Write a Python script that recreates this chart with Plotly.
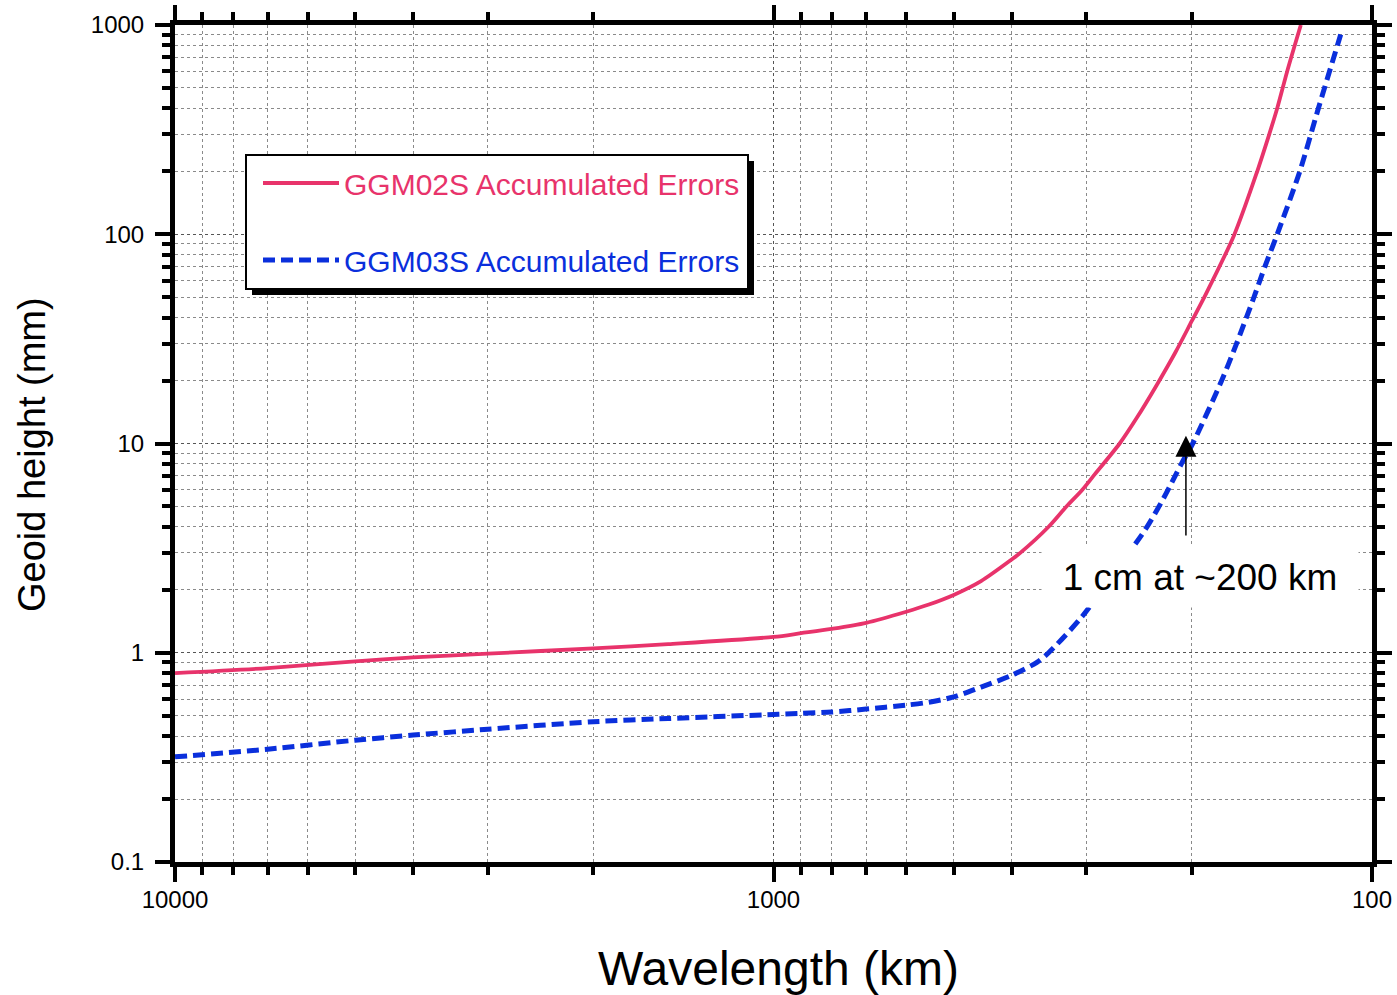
import math
import plotly.graph_objects as go

# ---------------- data ----------------
ggm02s_wavelength_km = [10000, 7000, 5000, 4000, 3000, 2000, 1500, 1000, 900, 800, 700, 600,
                        550, 500, 450, 400, 387, 347, 324, 305, 292, 264, 247, 229, 213,
                        200, 191, 170, 155.5, 148.5, 144, 138.6, 131.5]
ggm02s_error_mm = [0.80, 0.845, 0.91, 0.95, 0.99, 1.05, 1.10, 1.19, 1.24, 1.30, 1.39, 1.57,
                   1.70, 1.89, 2.2, 2.79, 3.0, 4.0, 5.0, 6.0, 7.0, 10.0, 13.3, 19.0, 27.3,
                   38.5, 49.5, 99, 200, 300, 400, 600, 1000]

ggm03s_wavelength_km = [10000, 7000, 5000, 4000, 3000, 2000, 1500, 1000, 900, 800, 700, 600,
                        550, 500, 450, 400, 363, 347, 305, 270, 239.5, 223, 208, 199.3,
                        178.3, 168.4, 157.5, 151, 144, 132, 122.9, 112.8]
ggm03s_error_mm = [0.318, 0.346, 0.382, 0.404, 0.431, 0.468, 0.485, 0.507, 0.513, 0.521, 0.538, 0.562,
                   0.58, 0.615, 0.685, 0.78, 0.90, 1.0, 1.49, 2.4, 3.86, 5.47, 8.04, 10.0,
                   20, 30, 50, 70, 100, 200, 400, 900]

series_names = ["GGM02S Accumulated Errors", "GGM03S Accumulated Errors"]
series_colors = ["#e8336b", "#0a2fdc"]

x_tick_values = [10000, 1000, 100]
x_tick_labels = ["10000", "1000", "100"]
y_tick_values = [0.1, 1, 10, 100, 1000]
y_tick_labels = ["0.1", "1", "10", "100", "1000"]

annotation_text = "1 cm at ~200 km"
arrow_wavelength_km = 204.6
arrow_tip_mm = 10.9
arrow_tail_mm = 3.57

# ---------------- layout geometry ----------------
W, H = 1397, 995
L, R, T, B = 175, 25, 25, 133
PW = W - L - R
PH = H - T - B


def px_x(p):
    return (p - L) / PW


def px_y(p):
    return (H - B - p) / PH


FONT = "Liberation Sans, Arial, Helvetica, sans-serif"

fig = go.Figure()
fig.add_trace(go.Scatter(
    x=ggm02s_wavelength_km, y=ggm02s_error_mm, mode="lines",
    name="<span style='color:%s'>%s</span>" % (series_colors[0], series_names[0]),
    line=dict(color=series_colors[0], width=3.8, shape="spline", smoothing=0.8),
    legendgroup="a",
))
fig.add_trace(go.Scatter(
    x=ggm03s_wavelength_km, y=ggm03s_error_mm, mode="lines",
    name="<span style='color:%s'>%s</span>" % (series_colors[1], series_names[1]),
    line=dict(color=series_colors[1], width=5, dash="12px,6px", shape="spline", smoothing=0.8),
    legendgroup="b",
))

minor_x = [d * 10 ** e for e in range(2, 4) for d in range(2, 10)]
minor_y = [d * 10 ** e for e in range(-1, 3) for d in range(2, 10)]

axis_common = dict(
    type="log", showline=True, linewidth=5, linecolor="black", mirror="ticks",
    ticks="outside", ticklen=15, tickwidth=4, tickcolor="black",
    showgrid=True, gridcolor="#555555", griddash="dot", gridwidth=1,
    tickfont=dict(family=FONT, size=24, color="black"),
    zeroline=False, automargin=False,
)

fig.update_xaxes(
    **axis_common, range=[4, 2], tickmode="array", tickvals=x_tick_values, ticktext=x_tick_labels,
    ticklabelstandoff=-3,
    minor=dict(tickmode="array", tickvals=minor_x, ticks="outside", ticklen=8, tickwidth=4,
               tickcolor="black", showgrid=True, gridcolor="#8a8a8a", griddash="dot", gridwidth=1),
)
fig.update_yaxes(
    **axis_common, range=[-1, 3], tickmode="array", tickvals=y_tick_values, ticktext=y_tick_labels,
    ticklabelstandoff=6,
    minor=dict(tickmode="array", tickvals=minor_y, ticks="outside", ticklen=8, tickwidth=4,
               tickcolor="black", showgrid=True, gridcolor="#8a8a8a", griddash="dot", gridwidth=1),
)

# legend frame with drop shadow
fig.add_shape(type="rect", xref="paper", yref="paper",
              x0=px_x(252), x1=px_x(754), y0=px_y(161), y1=px_y(295),
              fillcolor="black", line=dict(width=0), layer="above")
fig.add_shape(type="rect", xref="paper", yref="paper",
              x0=px_x(246), x1=px_x(748), y0=px_y(155), y1=px_y(289),
              fillcolor="white", line=dict(color="black", width=2), layer="above")

# axis titles
fig.add_annotation(text="Wavelength (km)", xref="paper", yref="paper",
                   x=px_x(778), y=px_y(968), showarrow=False,
                   font=dict(family=FONT, size=48, color="black"),
                   xanchor="center", yanchor="middle")
fig.add_annotation(text="Geoid height (mm)", xref="paper", yref="paper",
                   x=px_x(32), y=px_y(455), showarrow=False, textangle=-90,
                   font=dict(family=FONT, size=38, color="black"),
                   xanchor="center", yanchor="middle")

# arrow
fig.add_annotation(x=math.log10(arrow_wavelength_km), y=math.log10(arrow_tip_mm),
                   ax=math.log10(arrow_wavelength_km), ay=math.log10(arrow_tail_mm),
                   xref="x", yref="y", axref="x", ayref="y", text="",
                   showarrow=True, arrowhead=2, arrowsize=2.8, arrowwidth=1.5, arrowcolor="black")
# label box
fig.add_annotation(text=annotation_text, xref="paper", yref="paper",
                   x=px_x(1200), y=px_y(577), showarrow=False,
                   font=dict(family=FONT, size=37, color="black"),
                   bgcolor="white", width=312, height=56, borderpad=2,
                   xanchor="center", yanchor="middle")

fig.update_layout(
    width=W, height=H, margin=dict(l=L, r=R, t=T, b=B),
    paper_bgcolor="white", plot_bgcolor="white",
    showlegend=True,
    legend=dict(x=px_x(258), y=px_y(157), xanchor="left", yanchor="top",
                bgcolor="rgba(0,0,0,0)", borderwidth=0,
                font=dict(family=FONT, size=30), itemwidth=76, tracegroupgap=35),
)

fig.write_html("out.html")
